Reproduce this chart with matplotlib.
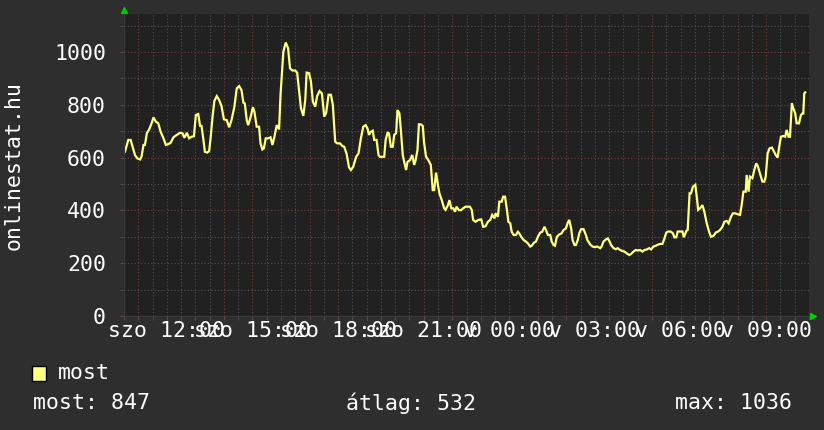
import matplotlib
matplotlib.use("Agg")
import matplotlib.pyplot as plt

# minutes elapsed since szo 10:30 (24 hour window)
minutes = [
    2, 9, 14, 18, 23, 28, 34, 37, 41, 44, 48, 53, 58, 62, 67, 72, 77, 83, 88, 93,
    98, 104, 111, 118, 123, 127, 132, 137, 142, 147, 151, 156, 160, 163, 167, 170, 175, 179, 182, 186,
    190, 195, 200, 205, 210, 216, 221, 226, 232, 237, 242, 247, 251, 254, 258, 261, 266, 271, 274, 279,
    284, 287, 291, 294, 298, 303, 308, 312, 316, 321, 326, 329, 335, 340, 345, 349, 354, 360, 364, 368,
    372, 377, 381, 384, 389, 393, 397, 402, 406, 411, 416, 421, 425, 430, 435, 439, 444, 448, 454, 459,
    463, 468, 473, 477, 482, 488, 493, 498, 503, 508, 512, 515, 519, 523, 526, 531, 535, 538, 543, 547,
    550, 554, 557, 561, 565, 568, 572, 575, 579, 582, 586, 589, 593, 596, 601, 606, 610, 613, 617, 620,
    624, 628, 631, 635, 640, 645, 649, 652, 656, 660, 663, 668, 673, 676, 681, 684, 688, 692, 696, 699,
    704, 709, 713, 718, 724, 727, 731, 734, 739, 745, 751, 755, 760, 765, 770, 774, 779, 781, 786, 789,
    794, 797, 801, 805, 808, 812, 815, 819, 824, 828, 831, 835, 840, 845, 849, 854, 857, 862, 866, 870,
    875, 879, 884, 887, 891, 896, 899, 903, 906, 910, 915, 920, 924, 929, 933, 936, 940, 943, 947, 950,
    954, 957, 961, 966, 971, 974, 980, 985, 990, 995, 1001, 1004, 1008, 1013, 1017, 1020, 1024, 1029, 1034, 1038,
    1043, 1048, 1052, 1057, 1062, 1066, 1071, 1076, 1080, 1085, 1090, 1094, 1099, 1104, 1108, 1113, 1118, 1122, 1127, 1132,
    1135, 1140, 1144, 1149, 1154, 1157, 1161, 1164, 1169, 1174, 1177, 1182, 1185, 1189, 1192, 1196, 1201, 1204, 1207, 1211,
    1216, 1220, 1225, 1230, 1234, 1239, 1244, 1248, 1253, 1258, 1262, 1267, 1271, 1276, 1280, 1285, 1289, 1295, 1299, 1302,
    1307, 1309, 1313, 1316, 1321, 1325, 1329, 1332, 1337, 1342, 1346, 1349, 1353, 1357, 1362, 1365, 1370, 1374, 1378, 1381,
    1386, 1390, 1393, 1397, 1400, 1404, 1407, 1411, 1414, 1419, 1423, 1426, 1428, 1430, 1432,
]
most = [
    622, 667, 667, 641, 610, 597, 593, 605, 648, 648, 692, 707, 730, 752, 736, 730, 698, 673, 648, 651,
    656, 677, 686, 694, 692, 675, 694, 673, 679, 681, 761, 765, 720, 720, 667, 622, 619, 625, 673, 752,
    815, 833, 818, 795, 745, 742, 715, 742, 792, 862, 871, 856, 808, 805, 742, 723, 752, 791, 775, 717,
    717, 654, 631, 635, 673, 673, 677, 648, 677, 723, 707, 837, 1001, 1036, 1014, 938, 930, 930, 922, 856,
    787, 758, 818, 922, 920, 888, 812, 793, 833, 852, 843, 755, 770, 838, 838, 800, 660, 654, 654, 644,
    641, 614, 563, 553, 566, 603, 616, 673, 717, 723, 710, 686, 698, 702, 667, 667, 610, 603, 603, 603,
    667, 694, 692, 641, 641, 686, 692, 780, 768, 705, 610, 584, 553, 584, 590, 610, 572, 590, 629, 726,
    726, 720, 654, 603, 590, 572, 477, 477, 543, 496, 465, 439, 408, 402, 420, 439, 408, 408, 395, 414,
    401, 401, 408, 414, 414, 414, 402, 364, 357, 364, 366, 338, 340, 357, 364, 383, 370, 389, 376, 433,
    433, 452, 452, 402, 357, 351, 319, 307, 307, 319, 313, 300, 288, 282, 275, 263, 266, 278, 282, 300,
    316, 319, 338, 326, 307, 307, 282, 269, 266, 300, 309, 313, 326, 332, 354, 364, 332, 288, 269, 269,
    288, 313, 329, 329, 307, 288, 271, 263, 261, 263, 257, 263, 282, 290, 294, 285, 269, 257, 253, 257,
    250, 246, 244, 237, 231, 235, 244, 250, 248, 250, 244, 250, 252, 257, 252, 263, 266, 270, 273, 273,
    288, 316, 320, 320, 313, 298, 298, 320, 320, 320, 298, 322, 326, 465, 465, 490, 497, 452, 402, 408,
    420, 395, 351, 319, 300, 303, 316, 319, 326, 338, 357, 360, 351, 376, 389, 389, 386, 383, 427, 471,
    471, 534, 471, 528, 522, 553, 578, 570, 540, 509, 509, 528, 616, 635, 638, 628, 610, 600, 648, 679,
    682, 679, 705, 679, 679, 806, 787, 768, 730, 730, 761, 767, 767, 843, 847,
]

label_minutes = [90, 270, 450, 630, 810, 990, 1170, 1350]
label_texts = ["szo 12:00", "szo 15:00", "szo 18:00", "szo 21:00",
               "v 00:00", "v 03:00", "v 06:00", "v 09:00"]
y_values = [0, 200, 400, 600, 800, 1000]

stat_most = 847
stat_avg = 532
stat_max = 1036

bg = "#2e2e2e"
canvas = "#212121"
fg = "#ffffff"
red_grid = "#7a3c3c"
grey_grid = "#555555"
mono = "DejaVu Sans Mono"
fs = 15.5

fig = plt.figure(figsize=(8.24, 4.30), dpi=100, facecolor=bg)
ax = fig.add_axes([124 / 824, 114 / 430, 685 / 824, 302 / 430], facecolor=canvas)

ax.plot(minutes, most, color="#ffff80", lw=1.6, solid_joinstyle="miter")

ax.set_xlim(0, 1440)
ax.set_ylim(0, 1144)

# hourly major grid (red), half hourly minor grid (grey)
hours = list(range(30, 1440, 60))
halfs = list(range(0, 1441, 60))
ax.set_xticks(hours)
ax.set_xticks(halfs, minor=True)
ax.set_xticklabels(["" for h in hours])
ax.set_yticks(y_values)
ax.set_yticks([100, 300, 500, 700, 900, 1100], minor=True)
ax.set_yticklabels([str(v) for v in y_values], fontfamily=mono, fontsize=fs, color=fg)

ax.grid(which="major", color=red_grid, linestyle=(0, (1, 2)), lw=0.8)
ax.grid(which="minor", color=grey_grid, linestyle=(0, (1, 2)), lw=0.8)
ax.set_axisbelow(True)

ax.tick_params(axis="x", which="major", length=3, color=red_grid)
ax.tick_params(axis="x", which="minor", length=3, color=grey_grid)
ax.tick_params(axis="y", which="major", length=3, color=red_grid, pad=10)
ax.tick_params(axis="y", which="minor", length=3, color=grey_grid)

for s in ax.spines.values():
    s.set_visible(False)
ax.spines["bottom"].set_visible(True)
ax.spines["bottom"].set_color("#3a3a3a")
ax.spines["left"].set_visible(True)
ax.spines["left"].set_color("#3a3a3a")

# time labels overlap each other just like the original
for m, t in zip(label_minutes, label_texts):
    ax.text(m, -0.05, t, transform=ax.get_xaxis_transform(), ha="center", va="center",
            fontfamily=mono, fontsize=fs, color=fg)

# green axis arrows
ax.plot([0], [1.013], marker="^", color="#00cc00", ms=4, transform=ax.transAxes, clip_on=False)
ax.plot([1.006], [0], marker=">", color="#00cc00", ms=4, transform=ax.transAxes, clip_on=False)

fig.text(14 / 824, 1 - 165 / 430, "onlinestat.hu", rotation=90, ha="center", va="center",
         fontfamily=mono, fontsize=fs, color=fg)

# legend
fig.patches.append(plt.Rectangle((32 / 824, 1 - 381 / 430), 14 / 824, 15 / 430,
                                 transform=fig.transFigure, facecolor="#ffff80",
                                 edgecolor="black", lw=1))
fig.text(58 / 824, 1 - 373 / 430, "most", ha="left", va="center",
         fontfamily=mono, fontsize=fs, color=fg)
fig.text(33 / 824, 1 - 403 / 430, "most: %d" % stat_most, ha="left", va="center",
         fontfamily=mono, fontsize=fs, color=fg)
fig.text(346 / 824, 1 - 403 / 430, "átlag: %d" % stat_avg, ha="left", va="center",
         fontfamily=mono, fontsize=fs, color=fg)
fig.text(792 / 824, 1 - 403 / 430, "max: %d" % stat_max, ha="right", va="center",
         fontfamily=mono, fontsize=fs, color=fg)

fig.savefig("out.png", dpi=100, facecolor=bg)
